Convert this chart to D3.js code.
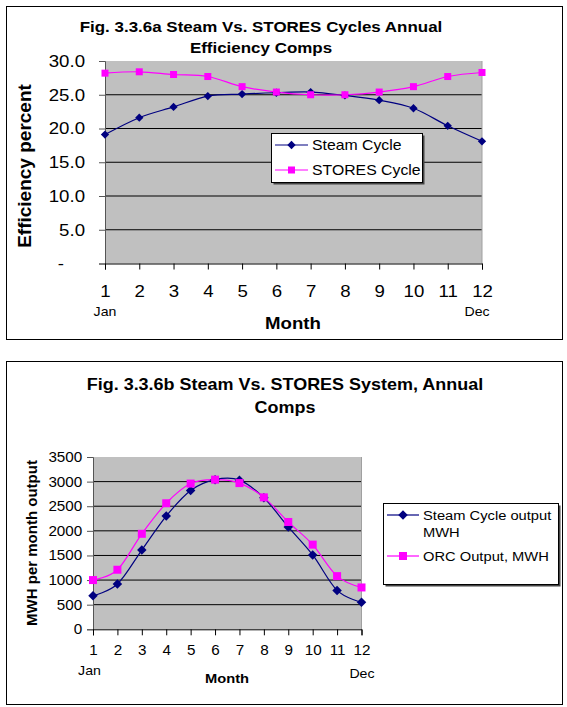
<!DOCTYPE html>
<html>
<head>
<meta charset="utf-8">
<script src="https://cdn.jsdelivr.net/npm/d3@7"></script>
<style>
  body { margin: 0; background: #fff; }
  svg { display: block; font-family: Arial, "Liberation Sans", sans-serif; }
</style>
</head>
<body>
<div id="chart"></div>
<script>
// months on the x axis
var months = [1, 2, 3, 4, 5, 6, 7, 8, 9, 10, 11, 12];

// fig a: efficiency percent
var steamEff = [19.1, 21.6, 23.2, 24.8, 25.1, 25.3, 25.4, 24.9, 24.2, 23.0, 20.4, 18.1];
var storesEff = [28.2, 28.4, 28.0, 27.7, 26.2, 25.4, 25.0, 25.0, 25.4, 26.2, 27.7, 28.3];
var effTicks = [0, 5, 10, 15, 20, 25, 30];

// fig b: MWH per month
var steamMwh = [680, 920, 1610, 2300, 2820, 3040, 3030, 2670, 2080, 1510, 790, 550];
var orcMwh = [1000, 1210, 1940, 2560, 2960, 3040, 2970, 2680, 2180, 1720, 1080, 850];
var mwhTicks = [0, 500, 1000, 1500, 2000, 2500, 3000, 3500];

var svg = d3.select('#chart').append('svg')
    .attr('width', 567)
    .attr('height', 707);

// the original picture is a bit wider than its fonts, so stretch text sideways
function stretch(sel, sx) {
  sel.each(function() {
    var t = d3.select(this);
    var x0 = +t.attr('x') || 0;
    t.attr('transform', 'translate(' + (x0 * (1 - sx)) + ',0) scale(' + sx + ',1)');
  });
}

function drawChart(c) {
  var g = svg.append('g');

  // outer frame
  g.append('rect')
      .attr('x', c.box[0] + 0.5).attr('y', c.box[1] + 0.5)
      .attr('width', c.box[2]).attr('height', c.box[3])
      .attr('fill', '#fff').attr('stroke', '#000').attr('stroke-width', 1);

  // titles
  c.title.forEach(function(t, i) {
    g.append('text')
        .attr('x', c.titleX).attr('y', c.titleY + i * c.titleGap)
        .attr('text-anchor', 'middle')
        .attr('font-weight', 'bold')
        .attr('font-size', c.titleSize)
        .text(t);
  });

  var x = d3.scaleLinear().domain([1, 12]).range([c.plot.left, c.plot.right]);
  var y = d3.scaleLinear().domain([0, c.yMax]).range([c.plot.bottom, c.plot.top]);

  g.append('rect')
      .attr('x', c.plot.left).attr('y', c.plot.top)
      .attr('width', c.plot.right - c.plot.left)
      .attr('height', c.plot.bottom - c.plot.top)
      .attr('fill', '#c0c0c0');

  // grid lines
  g.selectAll('.grid')
    .data(c.yTicks.slice(1, -1))
    .enter().append('line')
      .attr('x1', c.plot.left).attr('x2', c.plot.right)
      .attr('y1', function(d) { return y(d); })
      .attr('y2', function(d) { return y(d); })
      .attr('stroke', '#000').attr('stroke-width', 1);

  // plot right edge
  g.append('line')
      .attr('x1', c.plot.right).attr('x2', c.plot.right)
      .attr('y1', c.plot.top).attr('y2', c.plot.bottom)
      .attr('stroke', '#a0a0a0');

  var yAxis = d3.axisLeft(y).tickValues(c.yTicks).tickSize(6).tickPadding(c.yPad)
      .tickFormat(c.yFormat);
  var ya = g.append('g')
      .attr('transform', 'translate(' + c.plot.left + ',0)')
      .call(yAxis);
  ya.selectAll('text').attr('font-size', c.tickSize).attr('fill', '#000')
      .attr('font-family', 'Arial, "Liberation Sans", sans-serif');
  ya.selectAll('line, path').attr('stroke', '#555');
  // the zero label is a dash set further left
  ya.selectAll('text').filter(function(d) { return d === 0; })
      .attr('x', function() { return +d3.select(this).attr('x') - c.zeroDx; });

  var xAxis = d3.axisBottom(x).tickValues(months).tickSize(6).tickPadding(c.xPad)
      .tickFormat(d3.format('d'));
  var xa = g.append('g')
      .attr('transform', 'translate(0,' + c.plot.bottom + ')')
      .call(xAxis);
  xa.selectAll('text').attr('font-size', c.tickSize).attr('fill', '#000')
      .attr('font-family', 'Arial, "Liberation Sans", sans-serif');
  xa.selectAll('line, path').attr('stroke', '#000');

  // Jan / Dec
  g.append('text').attr('x', x(1) + c.janDx).attr('y', c.monY)
      .attr('text-anchor', 'middle').attr('font-size', c.monSize).text('Jan');
  g.append('text').attr('x', x(12) + c.decDx).attr('y', c.monY + c.decDy)
      .attr('text-anchor', 'middle').attr('font-size', c.monSize).text('Dec');

  // axis titles
  g.append('text')
      .attr('x', c.xTitle[0]).attr('y', c.xTitle[1])
      .attr('text-anchor', 'middle').attr('font-weight', 'bold')
      .attr('font-size', c.xTitleSize).text('Month');

  var line = d3.line()
      .x(function(d, i) { return x(months[i]); })
      .y(function(d) { return y(d); })
      .curve(d3.curveCardinal.tension(0));

  var diamond = d3.symbol().type(d3.symbolDiamond2).size(c.mark * c.mark * 0.9);

  c.series.forEach(function(s) {
    g.append('path')
        .datum(s.values)
        .attr('d', line)
        .attr('fill', 'none')
        .attr('stroke', s.color)
        .attr('stroke-width', 1.2);
  });

  c.series.forEach(function(s) {
    var pts = g.selectAll(null).data(s.values).enter();
    if (s.shape === 'diamond') {
      pts.append('path')
          .attr('d', diamond)
          .attr('transform', function(d, i) {
            return 'translate(' + x(months[i]) + ',' + y(d) + ')';
          })
          .attr('fill', s.color);
    } else {
      pts.append('rect')
          .attr('x', function(d, i) { return x(months[i]) - c.mark / 2; })
          .attr('y', function(d) { return y(d) - c.mark / 2; })
          .attr('width', c.mark).attr('height', c.mark)
          .attr('fill', s.color);
    }
  });

  // legend
  var L = c.legend;
  g.append('rect')
      .attr('x', L.x + 2.5).attr('y', L.y + 2.5)
      .attr('width', L.w).attr('height', L.h)
      .attr('fill', '#444');
  g.append('rect')
      .attr('x', L.x + 0.5).attr('y', L.y + 0.5)
      .attr('width', L.w).attr('height', L.h)
      .attr('fill', '#fff').attr('stroke', '#000');

  c.series.forEach(function(s, i) {
    var ly = L.y + L.rows[i];
    g.append('line')
        .attr('x1', L.x + 4).attr('x2', L.x + 4 + L.lineW)
        .attr('y1', ly).attr('y2', ly)
        .attr('stroke', s.color).attr('stroke-width', 1.2);
    var mx = L.x + 4 + L.lineW / 2;
    if (s.shape === 'diamond') {
      g.append('path').attr('d', diamond)
          .attr('transform', 'translate(' + mx + ',' + ly + ')')
          .attr('fill', s.color);
    } else {
      g.append('rect')
          .attr('x', mx - c.mark / 2).attr('y', ly - c.mark / 2)
          .attr('width', c.mark).attr('height', c.mark)
          .attr('fill', s.color);
    }
    s.label.forEach(function(t, j) {
      g.append('text')
          .attr('x', L.x + 8 + L.lineW).attr('y', ly + 5 + j * L.lineGap)
          .attr('font-size', L.size).text(t);
    });
  });

  stretch(g.selectAll('text'), c.sx);

  // rotated y title, added after the stretch
  g.append('text')
      .attr('transform', 'translate(' + c.yTitle[0] + ',' + c.yTitle[1] + ') rotate(-90)')
      .attr('text-anchor', 'middle').attr('dominant-baseline', 'central')
      .attr('font-weight', 'bold')
      .attr('font-size', c.yTitleSize).text(c.yLabel);
}

drawChart({
  box: [6, 6, 556, 333], sx: 1.13,
  title: ['Fig. 3.3.6a Steam Vs. STORES Cycles Annual', 'Efficiency Comps'],
  titleX: 261, titleY: 32, titleGap: 21, titleSize: 15,
  plot: { left: 105, right: 482, top: 61, bottom: 263.5 },
  yMax: 30, yTicks: effTicks,
  yFormat: function(d) { return d === 0 ? '-' : d3.format('.1f')(d); },
  yPad: 14, xPad: 15.5, tickSize: 16.5, zeroDx: 21,
  janDx: 0, decDx: -5, decDy: 0, monY: 316, monSize: 12.5,
  xTitle: [293, 329.5], xTitleSize: 16.5,
  yTitle: [24, 166], yTitleSize: 19, yLabel: 'Efficiency percent',
  mark: 7,
  series: [
    { values: steamEff, color: '#000080', shape: 'diamond', label: ['Steam Cycle'] },
    { values: storesEff, color: '#ff00ff', shape: 'square', label: ['STORES Cycle'] }
  ],
  legend: { x: 271, y: 133, w: 151, h: 49, rows: [12, 37], lineW: 33, size: 14, lineGap: 16 }
});

drawChart({
  box: [6, 361, 556, 343], sx: 1.09,
  title: ['Fig. 3.3.6b Steam Vs. STORES System, Annual', 'Comps'],
  titleX: 285, titleY: 390, titleGap: 23, titleSize: 16.5,
  plot: { left: 93, right: 361.5, top: 457, bottom: 629.3 },
  yMax: 3500, yTicks: mwhTicks,
  yFormat: d3.format('d'),
  yPad: 4.7, xPad: 9.7, tickSize: 14, zeroDx: 0,
  janDx: -3.5, decDx: 0.5, decDy: 3, monY: 675, monSize: 13,
  xTitle: [227, 683], xTitleSize: 13.5,
  yTitle: [31, 543], yTitleSize: 15, yLabel: 'MWH per month output',
  mark: 8,
  series: [
    { values: steamMwh, color: '#000080', shape: 'diamond', label: ['Steam Cycle output', 'MWH'] },
    { values: orcMwh, color: '#ff00ff', shape: 'square', label: ['ORC Output, MWH'] }
  ],
  legend: { x: 383, y: 503, w: 175, h: 81, rows: [12, 53], lineW: 32, size: 13.5, lineGap: 17.5 }
});
</script>
</body>
</html>
